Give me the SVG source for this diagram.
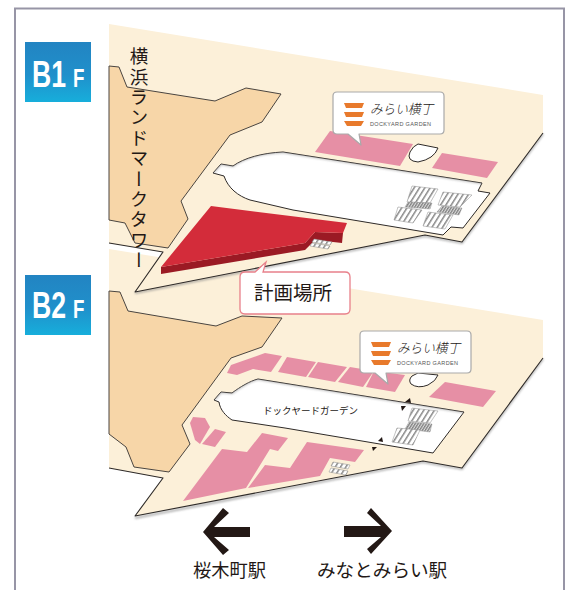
<svg xmlns="http://www.w3.org/2000/svg" width="569" height="590" viewBox="0 0 569 590">
<style>
.t{font-family:"Noto Sans CJK JP","Noto Sans CJK SC",sans-serif;fill:#231815}
.b{font-family:"Liberation Sans",Arial,sans-serif;font-weight:700;fill:#fff;font-size:37px}
.bf{font-size:26px}
.cream{fill:#fcf0d9}
.tan{fill:#f7d6a8;stroke:#4a4540;stroke-width:1;stroke-linejoin:round}
.pink{fill:#e68fa5}
.edge{fill:none;stroke:#2e2a28;stroke-width:1.1;stroke-linejoin:round}
.shadow{fill:none;stroke:#8a8a8a;stroke-width:2;filter:url(#blur);opacity:.7}
.hall{fill:#fff;stroke:#2e2a28;stroke-width:1;stroke-linejoin:round}
.inner{fill:none;stroke:#9a9a9a;stroke-width:2.500;filter:url(#blur);opacity:.6}
.hatch{fill:url(#h);stroke:#8a8a8a;stroke-width:.5}
.dark{fill:url(#d);stroke:#8a8a8a;stroke-width:.4}
.bowl{fill:#e87a2c}
.bubble{fill:#fff;stroke:#a9a9a9;stroke-width:1.2;stroke-linejoin:round}
.tri{fill:#231815}
</style>
<defs>
<linearGradient id="g" x1="0" y1="0" x2="0" y2="1">
<stop offset="0" stop-color="#2284c2"/><stop offset=".55" stop-color="#2090cb"/><stop offset="1" stop-color="#17aedb"/>
</linearGradient>
<pattern id="h" width="4.500" height="4" patternUnits="userSpaceOnUse" patternTransform="rotate(32)">
<rect width="4.500" height="4" fill="#fff"/><rect width="1.500" height="4" fill="#8a8a8a"/>
</pattern>
<pattern id="d" width="2.400" height="4" patternUnits="userSpaceOnUse" patternTransform="rotate(32)">
<rect width="2.400" height="4" fill="#ddd"/><rect width="1.300" height="4" fill="#808080"/>
</pattern>
<filter id="blur" x="-10%" y="-10%" width="120%" height="120%"><feGaussianBlur stdDeviation="1"/></filter>
<clipPath id="hall1"><path d="M213 173L221 164L233 166C244 158 262 153 283 152L482 183L478 191L490 193L463 228L451 227L443 235L293 210L250 200C238 196 228 188 224 176Z"/></clipPath>
<clipPath id="hall2"><path d="M214 400L221 392L232 393C240 387 250 381 258 379L464 412L433 453L285 428L232 420C226 416 220 410 219 402Z"/></clipPath>
<g id="logo">
<path class="bowl" d="M344 103H364L362 108H346Z"/>
<path class="bowl" d="M344 112H364L362 117H346Z"/>
<path class="bowl" d="M344 121H364L361 126H347Z"/>
<text class="t" x="370" y="114" font-size="13.500" font-weight="300" textLength="63" lengthAdjust="spacingAndGlyphs" font-style="italic">みらい横丁</text>
<text x="370" y="125.500" font-family="'Liberation Sans',Arial,sans-serif" font-size="5.500" fill="#555" textLength="61" lengthAdjust="spacing">DOCKYARD GARDEN</text>
</g>
</defs>
<rect width="569" height="590" fill="#fff"/>
<path d="M15 590V8.500H564V590" fill="none" stroke="#9795a6" stroke-width="2"/>

<g id="floor-b2">
<path class="shadow" d="M543 359L462 469L423 462L135 518"/>
<path class="cream" d="M109 249L543 320V358L462 468L423 461L135 516L163 478L109 468Z"/>
<path class="edge" d="M543 358L462 468L423 461L135 516L163 478L109 468"/>
<path class="tan" d="M109 291L120 292L128 311L216 326L242 316L282 318L262 347L231 358L182 425L190 444L169 472L134 467L126 447L109 434Z"/>
<path class="pink" d="M265 353L282 356L271 372L253 369L237 375L227 373L231 365Z"/>
<path class="pink" d="M287 357L316 362L306 377L278 372Z"/>
<path class="pink" d="M318 362L347 367L335 382L308 377Z"/>
<path class="pink" d="M350 367L374 371L363 387L338 382Z"/>
<path class="pink" d="M374 371L405 375L395 392L366 387Z"/>
<path class="pink" d="M445 382L496 391L483 407L429 397Z"/>
<path class="pink" d="M183 501L222 449L247 452L262 433L288 438L278 451L270 449L246 488Z"/>
<path class="pink" d="M248 488L265 465L290 468L307 442L364 450L355 462L330 458L320 476Z"/>
<path class="pink" d="M190 423L193 417L205 418L210 427L200 444L195 440Z"/>
<path class="pink" d="M215 429L226 432L215 447L202 444Z"/>
<path d="M418 373L438 375Q436 381 428 385Q418 389 411 384Q408 380 412 376Z" fill="#fff" stroke="#2e2a28"/>
<path class="hall" d="M214 400L221 392L232 393C240 387 250 381 258 379L464 412L433 453L285 428L232 420C226 416 220 410 219 402Z"/>
<g clip-path="url(#hall2)"><path class="inner" d="M214 400L221 392L232 393C240 387 250 381 258 379L464 412"/></g>
<text class="t" x="263" y="413.500" font-size="9.500">ドックヤードガーデン</text>
<path class="tri" d="M405 402L410 398L411 403Z"/>
<path class="tri" d="M401 406L406 406L402 411Z"/>
<path class="tri" d="M378 441L382 437L383 442Z"/>
<path class="tri" d="M372 447L377 447L373 451Z"/>
<path class="hatch" d="M412 408L438 411L430 423L408 421Z"/>
<path class="dark" d="M409 422L432 424L430 432L405 429Z"/>
<path class="hatch" d="M397 428L420 430L413 445L392 442Z"/>
<path class="hatch" d="M333 462L350 465L348 469L331 466Z"/>
<path class="hatch" d="M331 468L348 471L346 475L329 472Z"/>
</g>

<g id="floor-b1">
<path class="shadow" d="M543 134L462 243L425 236L135 293"/>
<path class="cream" d="M109 24L543 95V133L462 242L425 235L135 292L163 252L109 243Z"/>
<path class="edge" d="M543 133L462 242L425 235L135 292L163 252L109 243"/>
<path class="tan" d="M109 66L119 67L127 87L215 101L246 88L281 94L262 122L230 135L181 201L188 219L168 248L135 243L125 223L109 220Z"/>
<path class="pink" d="M330 131L413 144L400 166L315 152Z"/>
<path class="pink" d="M442 153L498 162L487 178L432 168Z"/>
<path d="M418 144L438 148Q434 159 418 162Q406 161 410 152Q413 146 418 144Z" fill="#fff" stroke="#2e2a28"/>
<path class="hall" d="M213 173L221 164L233 166C244 158 262 153 283 152L482 183L478 191L490 193L463 228L451 227L443 235L293 210L250 200C238 196 228 188 224 176Z"/>
<g clip-path="url(#hall1)"><path class="inner" d="M213 173L221 164L233 166C244 158 262 153 283 152L482 183"/></g>
<path class="hatch" d="M412 186L438 189L430 203L407 202Z"/>
<path class="dark" d="M408 202L432 203L430 209L405 207Z"/>
<path class="hatch" d="M398 207L422 210L413 223L394 220Z"/>
<path class="hatch" d="M443 192L472 195L460 207L438 205Z"/>
<path class="dark" d="M442 206L462 208L459 215L437 212Z"/>
<path class="hatch" d="M428 212L453 215L445 229L423 226Z"/>
<path d="M161 267L305 243V250L161 274Z" fill="#9b1a24"/>
<path d="M315 232L343 233L342 243L315 240L305 250V243Z" fill="#9b1a24"/>
<path d="M211 206L347 223L343 233L315 232L305 243L161 267Z" fill="#d32c3a"/>
<path class="hatch" d="M314 239L332 242L330 245L312 242Z"/>
<path class="hatch" d="M312 243L330 246L328 249L310 246Z"/>
</g>

<g id="labels-b1b2">
<g id="badge-b1"><rect x="25" y="42" width="66" height="60" fill="url(#g)"/>
<text class="b" transform="translate(32 87) scale(.72 1)">B1<tspan class="bf" dx="9.700">F</tspan></text></g>
<g id="badge-b2"><rect x="25" y="275" width="66" height="60" fill="url(#g)"/>
<text class="b" transform="translate(32 318) scale(.72 1)">B2<tspan class="bf" dx="9.700">F</tspan></text></g>
<text id="tower" class="t" lang="ja" x="139" y="47" font-size="18.500" letter-spacing="1.900" style="writing-mode:vertical-rl;text-orientation:mixed">横浜ランドマークタワー</text>
<g id="callout-site">
<path d="M245 272H255L266 262L263 272H345Q350 272 350 277V309Q350 314 345 314H245Q240 314 240 309V277Q240 272 245 272Z" fill="#fff" stroke="#e8808a" stroke-width="1.300"/>
<text class="t" x="254" y="300" font-size="19.500" fill="#333">計画場所</text>
</g>
<g id="callout-logo-b1">
<path class="bubble" d="M337 92H440Q444 92 444 96V130Q444 134 440 134H359L361 145L348 134H337Q333 134 333 130V96Q333 92 337 92Z"/>
<use href="#logo"/>
</g>
<g id="callout-logo-b2">
<path class="bubble" d="M364 331H467Q471 331 471 335V369Q471 373 467 373H386L388 384L375 373H364Q360 373 360 369V335Q360 331 364 331Z"/>
<use href="#logo" x="27" y="239"/>
</g>
</g>

<g id="directions">
<path d="M203 532L223 508L229 513L214 527H250V537H214L229 550L223 555Z" fill="#231815"/>
<path d="M392 531L371 508L367 513L381 526H344V537H381L367 549L371 554Z" fill="#231815"/>
<text class="t" x="193" y="576.500" font-size="18.300">桜木町駅</text>
<text class="t" x="317" y="576.500" font-size="18.600">みなとみらい駅</text>
</g>
</svg>
